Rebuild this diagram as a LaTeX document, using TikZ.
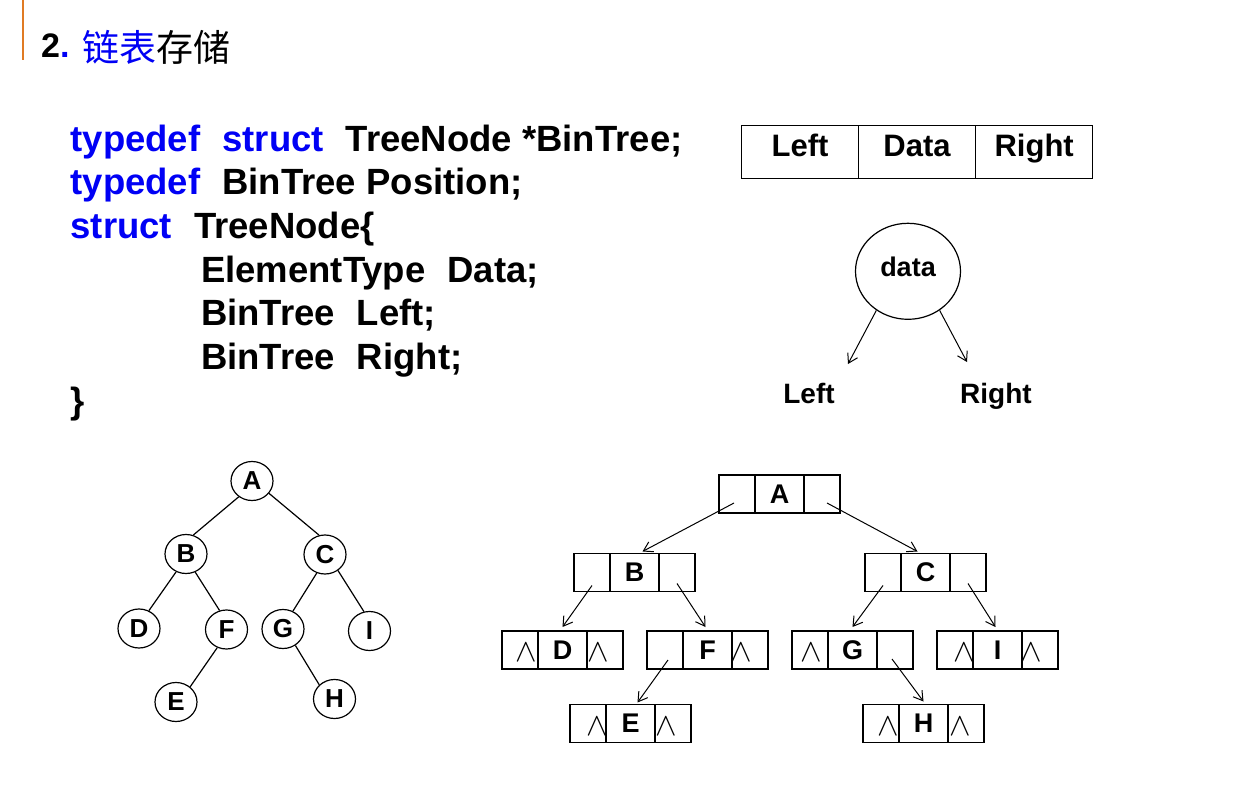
\documentclass[tikz,border=0pt]{standalone}
\usepackage{fontspec}
\setmainfont{Liberation Sans}
\newfontfamily\cjk{Noto Sans CJK SC}
\usetikzlibrary{arrows.meta,shapes.geometric}
\definecolor{chengse}{HTML}{E07B24}
\definecolor{lanse}{HTML}{0000F5}
\newcommand{\kongge}{\hspace{22bp}}
\newcommand{\kongzhi}{\scalebox{1.3}{$\wedge$}}

\begin{document}
\begin{tikzpicture}[x=1bp,y=-1bp,line width=1.2bp,>={Straight Barb[length=9bp,width=11bp]},
  codeLine/.style={anchor=base west,inner sep=0,font=\fontsize{36.5bp}{44bp}\selectfont\bfseries},
  headCell/.style={draw,minimum width=117bp,minimum height=53bp,inner sep=0,text height=22bp,text depth=12bp,font=\fontsize{31bp}{36bp}\selectfont\bfseries},
  lbl/.style={anchor=base,inner sep=0,font=\fontsize{28bp}{32bp}\selectfont\bfseries},
  treeNode/.style={draw,ellipse,minimum width=42bp,minimum height=39bp,inner sep=0,font=\fontsize{26bp}{30bp}\selectfont\bfseries},
  ptrCell/.style={draw,minimum width=36bp,minimum height=38bp,inner sep=0,outer sep=0},
  dataCell/.style={ptrCell,minimum width=49bp,font=\fontsize{27bp}{30bp}\selectfont\bfseries},
  nullMark/.style={inner sep=0,font=\fontsize{24bp}{28bp}\selectfont}]
\useasboundingbox (0,0) rectangle (1254,811);
% baslik
\draw[chengse,line width=2.5bp] (23,0) -- (23,60);
\node[anchor=base west,inner sep=0] (title) at (40.5,58) {\fontsize{34bp}{36bp}\selectfont\bfseries 2\textcolor{lanse}{.} \raisebox{-4bp}{\cjk\mdseries\fontsize{37bp}{40bp}\selectfont\textcolor{lanse}{链表}存储}};
% kod
\node[codeLine] (kod1) at (70,151) {\textcolor{lanse}{typedef}\kongge\textcolor{lanse}{struct}\kongge TreeNode *BinTree;};
\node[codeLine] (kod2) at (70,194.5) {\textcolor{lanse}{typedef}\kongge BinTree Position;};
\node[codeLine] (kod3) at (70,238) {\textcolor{lanse}{struct}\kongge TreeNode\{};
\node[codeLine] (kod4) at (200.5,282) {ElementType\kongge Data;};
\node[codeLine] (kod5) at (200.5,325.5) {BinTree\kongge Left;};
\node[codeLine] (kod6) at (200.5,369) {BinTree\kongge Right;};
\node[codeLine] (kod7) at (70,413) {\}};
% dugum yapisi
\node[headCell] (hLeft) at (800,151.7) {Left};
\node[headCell] (hData) at (917,151.7) {Data};
\node[headCell] (hRight) at (1034.2,151.7) {Right};
\node[draw,ellipse,minimum width=105bp,minimum height=96bp,inner sep=0,text height=20bp,text depth=9bp,font=\fontsize{27bp}{30bp}\selectfont\bfseries] (dataCirc) at (908,271.3) {data};
\coordinate (leftTip) at (848,364); \coordinate (rightTip) at (967,362);
\draw[line width=1bp,->] (dataCirc.231) -- (leftTip);
\draw[line width=1bp,->] (dataCirc.309) -- (rightTip);
\node[lbl] (lblLeft) at (809,403.3) {Left};
\node[lbl] (lblRight) at (996,403.3) {Right};
% agac
\node[treeNode] (tA) at (252,481) {A};
\node[treeNode] (tB) at (186,554) {B};
\node[treeNode] (tC) at (325,554.5) {C};
\node[treeNode] (tD) at (139,628.5) {D};
\node[treeNode] (tF) at (226.5,629.5) {F};
\node[treeNode] (tG) at (283,629) {G};
\node[treeNode] (tI) at (369.5,631) {I};
\node[treeNode] (tE) at (176,702) {E};
\node[treeNode] (tH) at (334.5,699) {H};
\draw (tA.230) -- (tB.69); \draw (tA.-36) -- (tC.107);
\draw (tB.241) -- (tD.61); \draw (tB.297) -- (tF.110);
\draw (tC.246) -- (tG.61); \draw (tC.309) -- (tI.106);
\draw (tF.243) -- (tE.47); \draw (tG.307) -- (tH.137);
% bagli liste
\node[ptrCell] (Al) at (737,494) {}; \node[dataCell] (Ad) at (779.5,494) {A}; \node[ptrCell] (Ar) at (822,494) {};
\node[ptrCell] (Bl) at (592,572.5) {}; \node[dataCell] (Bd) at (634.5,572.5) {B}; \node[ptrCell] (Br) at (677,572.5) {};
\node[ptrCell] (Cl) at (883,572.5) {}; \node[dataCell] (Cd) at (925.5,572.5) {C}; \node[ptrCell] (Cr) at (968,572.5) {};
\node[ptrCell] (Dl) at (520,650) {}; \node[dataCell] (Dd) at (562.5,650) {D}; \node[ptrCell] (Dr) at (605,650) {};
\node[ptrCell] (Fl) at (665,650) {}; \node[dataCell] (Fd) at (707.5,650) {F}; \node[ptrCell] (Fr) at (750,650) {};
\node[ptrCell] (Gl) at (810,650) {}; \node[dataCell] (Gd) at (852.5,650) {G}; \node[ptrCell] (Gr) at (895,650) {};
\node[ptrCell] (Il) at (955,650) {}; \node[dataCell] (Id) at (997.5,650) {I}; \node[ptrCell] (Ir) at (1040,650) {};
\node[ptrCell] (El) at (588,723.5) {}; \node[dataCell] (Ed) at (630.5,723.5) {E}; \node[ptrCell] (Er) at (673,723.5) {};
\node[ptrCell] (Hl) at (881,723.5) {}; \node[dataCell] (Hd) at (923.5,723.5) {H}; \node[ptrCell] (Hr) at (966,723.5) {};
\node[nullMark] (nDl) at ([xshift=6bp,yshift=-3bp]Dl.center) {\kongzhi};
\node[nullMark] (nDr) at ([xshift=-7bp,yshift=-3bp]Dr.center) {\kongzhi};
\node[nullMark] (nFr) at ([xshift=-9bp,yshift=-3bp]Fr.center) {\kongzhi};
\node[nullMark] (nGl) at ([xshift=1bp,yshift=-3bp]Gl.center) {\kongzhi};
\node[nullMark] (nIl) at ([xshift=9bp,yshift=-3bp]Il.center) {\kongzhi};
\node[nullMark] (nIr) at ([xshift=-9bp,yshift=-3bp]Ir.center) {\kongzhi};
\node[nullMark] (nEl) at ([xshift=9bp,yshift=-3bp]El.center) {\kongzhi};
\node[nullMark] (nEr) at ([xshift=-7bp,yshift=-3bp]Er.center) {\kongzhi};
\node[nullMark] (nHl) at ([xshift=7bp,yshift=-3bp]Hl.center) {\kongzhi};
\node[nullMark] (nHr) at ([xshift=-6bp,yshift=-3bp]Hr.center) {\kongzhi};
\draw[line width=1bp,->] ([xshift=-3bp,yshift=10bp]Al.south) -- ([xshift=8bp,yshift=2bp]Bd.north);
\draw[line width=1bp,->] ([xshift=5bp,yshift=10bp]Ar.south) -- ([xshift=-8bp,yshift=2bp]Cd.north);
\draw[line width=1bp,->] ([yshift=6bp]Bl.south) -- ([yshift=4bp]Dd.north);
\draw[line width=1bp,->] ([yshift=8bp]Br.south) -- ([xshift=-2bp,yshift=4bp]Fd.north);
\draw[line width=1bp,->] ([xshift=3bp,yshift=9bp]Fl.south) -- ([xshift=7bp,yshift=2bp]Ed.north);
\draw[line width=1bp,->] ([yshift=6bp]Cl.south) -- ([yshift=4bp]Gd.north);
\draw[line width=1bp,->] ([yshift=8bp]Cr.south) -- ([xshift=-2bp,yshift=4bp]Id.north);
\draw[line width=1bp,->] ([xshift=-3bp,yshift=10bp]Gr.south) -- ([yshift=3bp]Hd.north);
\end{tikzpicture}
\end{document}
